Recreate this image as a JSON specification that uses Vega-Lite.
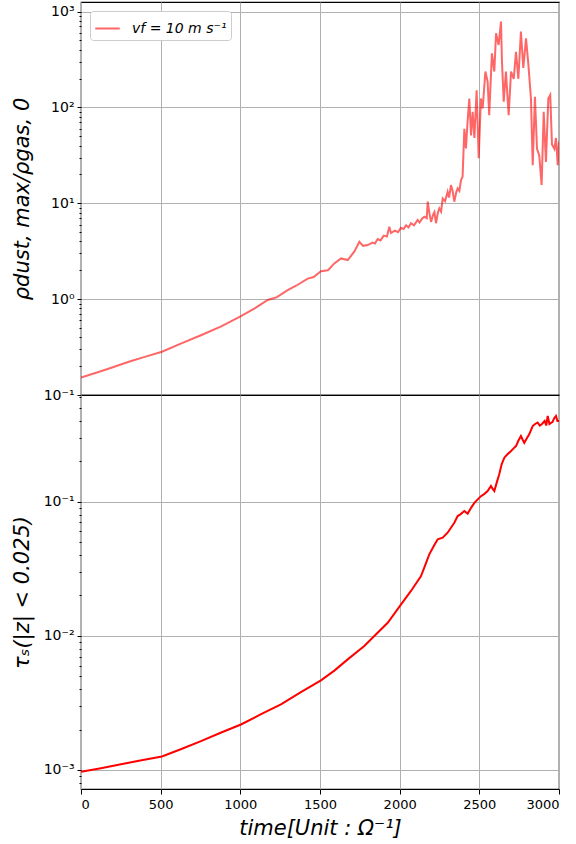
{
  "$schema": "https://vega.github.io/schema/vega-lite/v6.json",
  "padding": {"left": 10, "top": 1, "right": 0, "bottom": 0},
  "background": "white",
  "bounds": "flush",
  "spacing": 0,
  "config": {
    "font": "DejaVu Sans",
    "view": {"stroke": "black", "strokeWidth": 1.2},
    "axis": {"gridColor": "#b0b0b0", "gridWidth": 1, "domainColor": "black", "tickColor": "black", "labelColor": "black", "titleColor": "black", "titleFontWeight": "normal", "labelOverlap": false}
  },
  "datasets": {
    "rho": [
      {"t": 0, "v": 0.152}, {"t": 100, "v": 0.172}, {"t": 200, "v": 0.195}, {"t": 300, "v": 0.222}, {"t": 400, "v": 0.25},
      {"t": 508, "v": 0.283}, {"t": 630, "v": 0.345}, {"t": 753, "v": 0.42}, {"t": 880, "v": 0.52}, {"t": 1004, "v": 0.665},
      {"t": 1090, "v": 0.8}, {"t": 1172, "v": 0.98}, {"t": 1230, "v": 1.05}, {"t": 1297, "v": 1.24}, {"t": 1350, "v": 1.38},
      {"t": 1423, "v": 1.64}, {"t": 1460, "v": 1.7}, {"t": 1506, "v": 1.96}, {"t": 1550, "v": 2.0}, {"t": 1590, "v": 2.36},
      {"t": 1632, "v": 2.66}, {"t": 1674, "v": 2.56}, {"t": 1715, "v": 3.13}, {"t": 1747, "v": 3.97}, {"t": 1770, "v": 3.6},
      {"t": 1799, "v": 3.67}, {"t": 1830, "v": 3.9}, {"t": 1845, "v": 3.8}, {"t": 1862, "v": 4.24}, {"t": 1880, "v": 4.1}, {"t": 1900, "v": 4.6}, {"t": 1920, "v": 4.5}, {"t": 1935, "v": 5.7},
      {"t": 1945, "v": 4.9}, {"t": 1970, "v": 5.2}, {"t": 1990, "v": 5.0}, {"t": 2008, "v": 5.55}, {"t": 2025, "v": 5.4}, {"t": 2040, "v": 5.9}, {"t": 2055, "v": 5.6}, {"t": 2071, "v": 6.2},
      {"t": 2090, "v": 5.9}, {"t": 2113, "v": 6.7}, {"t": 2125, "v": 6.3}, {"t": 2140, "v": 6.9}, {"t": 2155, "v": 7.25}, {"t": 2170, "v": 7.0},
      {"t": 2176, "v": 10.4}, {"t": 2186, "v": 8.0}, {"t": 2197, "v": 6.4}, {"t": 2210, "v": 7.6}, {"t": 2218, "v": 8.1},
      {"t": 2228, "v": 6.2}, {"t": 2240, "v": 8.0}, {"t": 2249, "v": 8.85}, {"t": 2260, "v": 8.2}, {"t": 2270, "v": 11.2},
      {"t": 2285, "v": 10.5}, {"t": 2301, "v": 13.2}, {"t": 2310, "v": 11.5}, {"t": 2322, "v": 15.5}, {"t": 2332, "v": 13.5},
      {"t": 2343, "v": 10.4}, {"t": 2355, "v": 13}, {"t": 2364, "v": 14.3}, {"t": 2375, "v": 13.5}, {"t": 2385, "v": 17.5},
      {"t": 2395, "v": 19}, {"t": 2406, "v": 60}, {"t": 2416, "v": 37.4}, {"t": 2426, "v": 70}, {"t": 2437, "v": 124},
      {"t": 2448, "v": 51}, {"t": 2458, "v": 90}, {"t": 2469, "v": 48}, {"t": 2483, "v": 151}, {"t": 2496, "v": 29.5},
      {"t": 2510, "v": 124}, {"t": 2521, "v": 98}, {"t": 2538, "v": 237}, {"t": 2552, "v": 186}, {"t": 2562, "v": 83},
      {"t": 2579, "v": 367}, {"t": 2594, "v": 237}, {"t": 2605, "v": 594}, {"t": 2621, "v": 449}, {"t": 2636, "v": 787},
      {"t": 2642, "v": 301}, {"t": 2653, "v": 115}, {"t": 2667, "v": 237}, {"t": 2684, "v": 83}, {"t": 2699, "v": 237},
      {"t": 2716, "v": 199}, {"t": 2730, "v": 381}, {"t": 2745, "v": 199}, {"t": 2761, "v": 618}, {"t": 2776, "v": 258},
      {"t": 2793, "v": 526}, {"t": 2808, "v": 278}, {"t": 2824, "v": 124}, {"t": 2835, "v": 25}, {"t": 2849, "v": 129},
      {"t": 2862, "v": 37}, {"t": 2876, "v": 31.6}, {"t": 2891, "v": 15.5}, {"t": 2904, "v": 90}, {"t": 2918, "v": 27},
      {"t": 2933, "v": 124}, {"t": 2945, "v": 135}, {"t": 2956, "v": 41}, {"t": 2971, "v": 37}, {"t": 2981, "v": 48},
      {"t": 2992, "v": 25}, {"t": 3000, "v": 44}
    ],
    "tau": [
      {"t": 0, "v": 0.00097}, {"t": 125, "v": 0.00103}, {"t": 251, "v": 0.0011}, {"t": 380, "v": 0.00118}, {"t": 508, "v": 0.00126},
      {"t": 630, "v": 0.00143}, {"t": 753, "v": 0.00164}, {"t": 880, "v": 0.0019}, {"t": 1004, "v": 0.00218}, {"t": 1130, "v": 0.0026},
      {"t": 1255, "v": 0.00308}, {"t": 1380, "v": 0.0038}, {"t": 1506, "v": 0.00465}, {"t": 1590, "v": 0.0055}, {"t": 1674, "v": 0.00667},
      {"t": 1778, "v": 0.00838}, {"t": 1841, "v": 0.00995}, {"t": 1925, "v": 0.0125}, {"t": 2002, "v": 0.0167}, {"t": 2071, "v": 0.0216},
      {"t": 2134, "v": 0.0279}, {"t": 2186, "v": 0.0405}, {"t": 2215, "v": 0.047}, {"t": 2239, "v": 0.0524}, {"t": 2270, "v": 0.0539},
      {"t": 2301, "v": 0.0587}, {"t": 2343, "v": 0.0697}, {"t": 2364, "v": 0.0782}, {"t": 2381, "v": 0.0805}, {"t": 2406, "v": 0.0853},
      {"t": 2427, "v": 0.0815}, {"t": 2448, "v": 0.09}, {"t": 2469, "v": 0.098}, {"t": 2490, "v": 0.104}, {"t": 2510, "v": 0.11},
      {"t": 2530, "v": 0.114}, {"t": 2552, "v": 0.12}, {"t": 2573, "v": 0.131}, {"t": 2583, "v": 0.125}, {"t": 2594, "v": 0.12},
      {"t": 2610, "v": 0.14}, {"t": 2625, "v": 0.16}, {"t": 2640, "v": 0.19}, {"t": 2657, "v": 0.213}, {"t": 2675, "v": 0.225},
      {"t": 2699, "v": 0.239}, {"t": 2715, "v": 0.25}, {"t": 2730, "v": 0.26}, {"t": 2745, "v": 0.285}, {"t": 2761, "v": 0.309},
      {"t": 2772, "v": 0.29}, {"t": 2782, "v": 0.275}, {"t": 2800, "v": 0.3}, {"t": 2813, "v": 0.318}, {"t": 2835, "v": 0.367},
      {"t": 2850, "v": 0.38}, {"t": 2866, "v": 0.389}, {"t": 2880, "v": 0.37}, {"t": 2893, "v": 0.38}, {"t": 2910, "v": 0.4},
      {"t": 2920, "v": 0.37}, {"t": 2929, "v": 0.437}, {"t": 2940, "v": 0.38}, {"t": 2960, "v": 0.395}, {"t": 2970, "v": 0.42},
      {"t": 2981, "v": 0.437}, {"t": 2990, "v": 0.4}, {"t": 3000, "v": 0.4}
    ]
  },
  "vconcat": [
    {
      "width": 478,
      "height": 393,
      "data": {"name": "rho"},
      "mark": {"type": "line", "strokeWidth": 2, "opacity": 0.6, "clip": true},
      "encoding": {
        "x": {
          "field": "t", "type": "quantitative",
          "scale": {"domain": [0, 3000], "nice": false, "zero": false},
          "axis": {"values": [0, 500, 1000, 1500, 2000, 2500, 3000], "labels": false, "ticks": false, "domain": false, "title": null, "grid": true}
        },
        "y": {
          "field": "v", "type": "quantitative",
          "scale": {"type": "log", "domain": [0.1, 1260], "nice": false},
          "axis": {
            "values": [0.1, 0.2, 0.3, 0.4, 0.5, 0.6, 0.7, 0.8, 0.9, 1, 2, 3, 4, 5, 6, 7, 8, 9, 10, 20, 30, 40, 50, 60, 70, 80, 90, 100, 200, 300, 400, 500, 600, 700, 800, 900, 1000],
            "labelExpr": "datum.value == 0.1 ? '10⁻¹' : datum.value == 1 ? '10⁰' : datum.value == 10 ? '10¹' : datum.value == 100 ? '10²' : datum.value == 1000 ? '10³' : ''",
            "tickSize": {"condition": {"test": "abs(log(datum.value)/LN10 - round(log(datum.value)/LN10)) < 0.001", "value": 4}, "value": 2},
            "gridOpacity": {"condition": {"test": "abs(log(datum.value)/LN10 - round(log(datum.value)/LN10)) < 0.001", "value": 1}, "value": 0},
            "labelFontSize": 14,
            "labelPadding": 3,
            "minExtent": 30,
            "maxExtent": 30,
            "domain": false,
            "title": "ρdust, max/ρgas, 0",
            "titleFontSize": 21,
            "titleFontStyle": "italic",
            "titlePadding": 19
          }
        },
        "color": {
          "datum": "vf = 10 m s⁻¹",
          "type": "nominal",
          "scale": {"range": ["red"]},
          "legend": {
            "orient": "top-left", "offset": 9, "title": null,
            "symbolType": "stroke", "symbolStrokeWidth": 2, "symbolOpacity": 0.6, "symbolSize": 600,
            "labelFontSize": 14, "labelFontStyle": "italic", "labelOffset": 11,
            "padding": 4, "strokeColor": "#cccccc", "fillColor": "white", "cornerRadius": 3
          }
        }
      }
    },
    {
      "width": 478,
      "height": 394,
      "data": {"name": "tau"},
      "mark": {"type": "line", "strokeWidth": 2, "color": "red", "clip": true},
      "encoding": {
        "x": {
          "field": "t", "type": "quantitative",
          "scale": {"domain": [0, 3000], "nice": false, "zero": false},
          "axis": {"values": [0, 500, 1000, 1500, 2000, 2500, 3000], "format": "d", "labelFontSize": 13, "tickSize": 5, "labelPadding": 4, "domain": false, "grid": true,
                   "title": "time[Unit : Ω⁻¹]", "titleFontSize": 21, "titleFontStyle": "italic", "titlePadding": 6}
        },
        "y": {
          "field": "v", "type": "quantitative",
          "scale": {"type": "log", "domain": [0.00072, 0.625], "nice": false},
          "axis": {
            "values": [0.0008, 0.0009, 0.001, 0.002, 0.003, 0.004, 0.005, 0.006, 0.007, 0.008, 0.009, 0.01, 0.02, 0.03, 0.04, 0.05, 0.06, 0.07, 0.08, 0.09, 0.1, 0.2, 0.3, 0.4, 0.5, 0.6],
            "labelExpr": "datum.value == 0.001 ? '10⁻³' : datum.value == 0.01 ? '10⁻²' : datum.value == 0.1 ? '10⁻¹' : ''",
            "tickSize": {"condition": {"test": "abs(log(datum.value)/LN10 - round(log(datum.value)/LN10)) < 0.001", "value": 4}, "value": 2},
            "gridOpacity": {"condition": {"test": "abs(log(datum.value)/LN10 - round(log(datum.value)/LN10)) < 0.001", "value": 1}, "value": 0},
            "labelFontSize": 14,
            "labelPadding": 3,
            "minExtent": 30,
            "maxExtent": 30,
            "domain": false,
            "title": "τₛ(|z| < 0.025)",
            "titleFontSize": 21,
            "titleFontStyle": "italic",
            "titlePadding": 19
          }
        }
      }
    }
  ]
}
